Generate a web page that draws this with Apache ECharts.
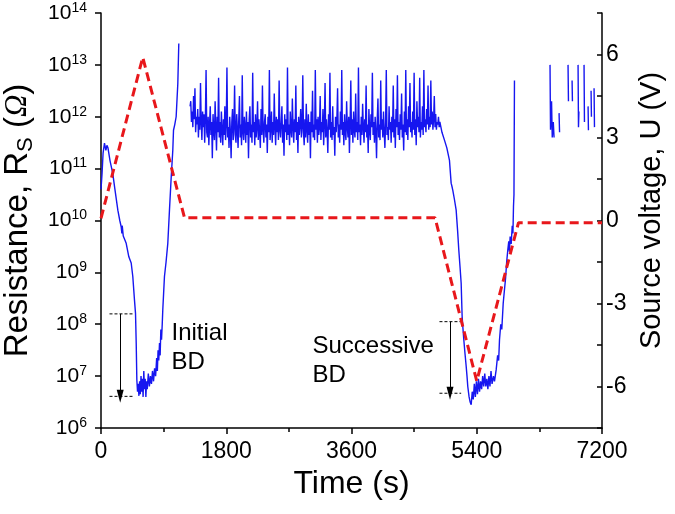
<!DOCTYPE html>
<html><head><meta charset="utf-8">
<script src="https://cdn.jsdelivr.net/npm/echarts@6/dist/echarts.min.js"></script>
<style>html,body{margin:0;padding:0;background:#fff}#c{width:675px;height:514px}</style>
</head><body><div id="c"></div>
<script>
// ---- axis ticks ----
const timeTicks = [0, 1800, 3600, 5400, 7200];
const resExpTicks = [6, 7, 8, 9, 10, 11, 12, 13, 14];
const voltTicks = [-6, -3, 0, 3, 6];

// ---- blue trace: resistance, as [time (s), log10 R] ----
const firstSweep = [[0,10.6],[15,10.9],[30,11.3],[50,11.49],[70,11.35],[85,11.45],[100,11.4],[130,11.15],[170,10.9],[200,10.6],[242,10.2],[270,10.0],[290,9.88],[300,9.75],[305,9.9],[320,9.7],[362,9.56],[400,9.3],[434,9.18],[457,8.92],[481,8.47],[496,8.21],[506,7.64],[515,6.93],
 [525,6.7],[535,6.85],[545,6.62],[555,6.9],[565,6.65],[575,7.0],[585,6.7],[595,6.95],[605,6.6],[615,7.1],[625,6.75],[635,6.95],[645,6.6],[655,6.9],[665,6.75],[680,7.05],[695,6.8],[710,7.0],[725,6.85],[740,7.1],[755,6.9],[770,7.15],[785,7.0],[800,7.35],[810,7.1],[820,7.5],[830,7.3],[841,7.64],[850,7.4],[860,7.9],[870,7.7],[880,8.0],[888,8.28],[900,8.6],[912,8.92],[935,9.2],[960,9.56],[984,10.2],[1009,10.84],[1032,11.36],[1042,11.74],[1060,11.85],[1080,12.0],[1104,12.64],[1118,13.41]];

const plateauStart = 1280;
const plateauStep = 10;
const plateauLogR = [
 12.2,12.3,11.9,12.1,11.8,12.4,11.95,12.55,11.7,12.0,
 11.85,12.15,11.6,12.0,11.75,12.65,11.9,11.55,12.1,11.8,
 12.05,11.5,11.95,12.9,11.7,11.6,12.0,11.45,11.85,12.2,
 11.65,11.9,11.2,12.05,11.75,11.55,12.3,11.8,11.35,12.0,
 11.7,12.75,11.6,11.9,11.5,12.1,11.75,11.45,11.95,11.65,
 12.2,11.55,11.85,12.95,11.6,11.8,11.4,12.0,11.7,11.2,
 11.9,12.15,11.55,11.8,12.6,11.65,11.5,12.05,11.75,11.4,
 11.95,12.4,11.6,11.85,11.45,12.8,11.7,11.55,12.0,11.8,
 11.5,12.1,11.65,11.9,11.2,11.95,12.2,11.6,11.85,11.5,
 12.85,11.7,11.9,11.45,12.05,11.6,11.8,12.3,11.55,11.95,
 11.7,11.4,12.15,11.65,12.6,11.75,11.5,11.9,12.05,11.6,
 11.85,11.3,12.0,11.7,12.9,11.55,11.8,12.1,11.5,11.9,
 11.65,12.45,11.8,11.45,12.0,11.7,11.95,11.55,12.7,11.75,
 11.6,11.9,12.2,11.5,11.85,11.25,12.05,11.7,11.95,11.55,
 12.95,11.65,11.85,11.45,12.1,11.75,11.6,12.35,11.8,11.5,
 11.95,11.7,12.6,11.55,11.9,11.3,12.0,11.65,11.85,12.15,
 11.6,11.8,12.8,11.7,11.45,11.95,11.6,12.25,11.75,11.5,
 12.05,11.65,11.9,11.2,12.1,11.7,12.5,11.6,11.85,11.55,
 12.9,11.75,11.95,11.5,12.0,11.65,11.8,12.4,11.55,11.9,
 11.7,12.15,11.45,11.85,12.65,11.6,11.95,11.7,11.3,12.05,
 11.75,12.85,11.6,11.9,11.55,12.2,11.65,11.8,11.25,12.0,
 11.7,11.95,12.55,11.6,11.85,11.5,12.1,11.75,12.9,11.65,
 11.9,11.45,12.05,11.7,11.55,12.3,11.8,11.6,12.0,11.3,
 11.85,12.7,11.65,11.95,11.5,12.1,11.75,11.6,12.45,11.7,
 11.9,11.55,12.95,11.7,11.85,11.45,12.0,11.65,12.25,11.8,
 11.5,11.95,11.7,12.6,11.6,11.85,11.3,12.15,11.75,11.55,
 12.05,11.8,12.85,11.65,11.9,11.5,12.0,11.7,11.2,11.95,
 12.35,11.6,11.85,11.55,12.7,11.75,11.95,11.6,12.1,11.7,
 11.4,11.9,12.9,11.65,11.8,11.55,12.2,11.75,11.9,11.5,
 12.0,11.7,12.6,11.6,11.95,11.4,12.15,11.8,12.8,11.65,
 11.9,11.55,12.05,11.75,12.45,11.6,11.85,11.35,12.1,11.7,
 12.9,11.65,11.95,11.55,12.2,11.8,12.65,11.7,11.9,11.6,
 12.1,11.75,12.85,11.65,11.95,11.45,12.3,11.8,12.0,11.7,
 12.75,11.6,11.9,11.75,12.2,11.65,12.9,11.8,11.95,11.7,
 12.15,11.85,12.6,11.75,12.0,11.8,12.7,11.85,12.1,11.75,
 11.95,12.4,11.8,12.05,11.75,11.9,11.85,12.0,11.8,11.9];

const secondSweep = [[4885,11.8],[4900,11.7],[4936,11.55],[4970,11.4],[5008,11.16],[5032,10.72],[5045,10.65],[5056,10.58],[5080,10.4],[5104,10.2],[5125,9.8],[5142,9.43],[5160,9.1],[5176,8.79],[5190,8.15],[5200,7.95],[5214,7.7],[5230,7.45],[5248,7.19],[5260,7.0],[5271,6.8],[5290,6.6],[5305,6.5],[5320,6.45],[5335,6.7],[5350,6.55],[5365,6.85],[5380,6.6],[5395,6.9],[5410,6.65],[5425,6.95],[5440,6.7],[5455,6.9],[5470,6.75],[5485,7.0],[5500,6.8],[5515,7.05],[5530,6.8],[5545,6.95],[5560,6.75],[5575,7.0],[5590,6.8],[5605,7.1],[5620,6.85],[5640,7.0],[5655,6.9],[5679,7.12],[5700,7.4],[5715,7.3],[5727,7.7],[5745,8.0],[5760,7.9],[5780,8.4],[5798,8.66],[5815,8.9],[5830,9.2],[5846,9.43],[5860,9.6],[5870,9.4],[5880,9.69],[5895,9.55],[5910,9.9],[5920,9.75],[5928,10.27],[5935,10.5],[5942,12.7]];

const lateStrokes = [
 [[6453,13.0],[6460,11.75],[6475,12.3],[6485,11.6],[6500,11.9],[6511,11.6]],
 [[6583,12.07],[6590,11.7]],
 [[6712,13.0],[6718,12.3]],
 [[6770,12.7],[6775,12.3]],
 [[6856,13.0],[6862,11.8],[6868,12.1]],
 [[6942,13.0],[6948,11.9]],
 [[7000,12.2],[7005,11.74]],
 [[7043,12.5],[7048,12.0]],
 [[7086,12.55],[7092,11.8]]];

// ---- red dashed: source voltage ----
const voltTime = [0, 600, 1200, 4800, 5400, 6000, 7200];
const voltValue = [0.08, 5.9, 0.1, 0.1, -5.8, -0.08, -0.08];

// ---- breakdown annotations ----
const bdText = ['Initial\nBD', 'Successive\nBD'];
const bdTextTime = [1013, 3039];
const bdTextLogR = [7.55, 7.30];
const bdTimeStart = [122, 4864];
const bdTimeEnd = [457, 5176];
const bdArrowTime = [276, 5016];
const bdHighLogR = [8.2, 8.05];
const bdLowLogR = [6.61, 6.67];

// ---- build ----
const FONT = 'Liberation Sans, Arial, sans-serif';
const toR = e => Math.pow(10, e);
const blueData = [];
firstSweep.forEach(p => blueData.push([p[0], toR(p[1])]));
blueData.push([1200, null]);
plateauLogR.forEach((e, i) => blueData.push([plateauStart + plateauStep * i, toR(e)]));
secondSweep.forEach(p => blueData.push([p[0], toR(p[1])]));
lateStrokes.forEach(s => {
  blueData.push([s[0][0] - 1, null]);
  s.forEach(p => blueData.push([p[0], toR(p[1])]));
});

const series = [];
series.push({
  type: 'line', data: blueData, yAxisIndex: 0, symbol: 'none', connectNulls: false,
  lineStyle: { color: '#1616f0', width: 1.4 }, z: 2, silent: true
});
for (let k = 0; k < bdText.length; k++) {
  series.push({
    type: 'line', yAxisIndex: 0, symbol: 'none', silent: true, z: 3,
    data: [[bdTimeStart[k], toR(bdHighLogR[k])], [bdTimeEnd[k], toR(bdHighLogR[k])], [bdTimeEnd[k] + 1, null],
           [bdTimeStart[k], toR(bdLowLogR[k])], [bdTimeEnd[k], toR(bdLowLogR[k])]],
    lineStyle: { color: '#000', width: 1, type: [3, 2] },
    markLine: {
      silent: true, symbol: ['none', 'triangle'], symbolSize: [7, 13],
      label: { show: false },
      lineStyle: { color: '#000', width: 1, type: 'solid' },
      data: [[{ coord: [bdArrowTime[k], toR(bdHighLogR[k])] }, { coord: [bdArrowTime[k], toR(bdLowLogR[k])] }]]
    }
  });
  series.push({
    type: 'scatter', yAxisIndex: 0, symbolSize: 0, silent: true, z: 4,
    itemStyle: { opacity: 1 },
    data: [[bdTextTime[k], toR(bdTextLogR[k])]],
    label: { show: true, position: 'right', distance: 0, formatter: bdText[k], align: 'left', opacity: 1,
      fontSize: 24, lineHeight: 29, color: '#000', fontFamily: FONT }
  });
}
series.push({
  type: 'line', yAxisIndex: 1, symbol: 'none', silent: true, z: 5,
  data: voltTime.map((t, i) => [t, voltValue[i]]),
  lineStyle: { color: '#e8171b', width: 3, type: [9, 5] }
});

const chart = echarts.init(document.getElementById('c'), null, { renderer: 'canvas' });
chart.setOption({
  animation: false,
  backgroundColor: '#fff',
  grid: { left: 101, top: 13, width: 501, height: 415, outerBoundsMode: 'none' },
  xAxis: {
    type: 'value', min: timeTicks[0], max: timeTicks[timeTicks.length - 1], interval: timeTicks[1] - timeTicks[0],
    axisLine: { show: true, onZero: false, lineStyle: { color: '#000', width: 1.5 } },
    axisTick: { show: true, length: 6, lineStyle: { color: '#000', width: 1.5 } },
    minorTick: { show: true, splitNumber: 2, length: 4, lineStyle: { color: '#000', width: 1.5 } },
    splitLine: { show: false },
    axisLabel: { fontSize: 23, color: '#000', margin: 12, fontFamily: FONT, formatter: v => String(v) },
    name: 'Time (s)', nameLocation: 'middle', nameGap: 39,
    nameTextStyle: { fontSize: 32, color: '#000', fontFamily: FONT }
  },
  yAxis: [{
    type: 'log', logBase: 10, min: toR(resExpTicks[0]), max: toR(resExpTicks[resExpTicks.length - 1]),
    splitNumber: resExpTicks.length - 1, position: 'left',
    axisLine: { show: true, onZero: false, lineStyle: { color: '#000', width: 1.5 } },
    axisTick: { show: true, length: 6, lineStyle: { color: '#000', width: 1.5 } },
    splitLine: { show: false },
    axisLabel: {
      margin: 14, color: '#000',
      formatter: v => '{b|10}{s|' + Math.round(Math.log10(v)) + '}',
      rich: {
        b: { fontSize: 21, lineHeight: 24, fontFamily: FONT, color: '#000' },
        s: { fontSize: 14, lineHeight: 14, verticalAlign: 'top', fontFamily: FONT, color: '#000' }
      }
    },
    name: '{t|Resistance, R}{s|S}{t| (}{o|Ω}{t|)}', nameLocation: 'middle', nameRotate: 90, nameGap: 60,
    nameTextStyle: {
      color: '#000',
      rich: {
        t: { fontSize: 33, lineHeight: 38, fontFamily: FONT, color: '#000' },
        s: { fontSize: 22, lineHeight: 22, verticalAlign: 'bottom', fontFamily: FONT, color: '#000' },
        o: { fontSize: 31, lineHeight: 38, fontStyle: 'italic', fontFamily: 'Liberation Serif, serif', color: '#000' }
      }
    }
  }, {
    type: 'value', position: 'right', min: -7.5, max: 7.5, interval: 1.5,
    axisLine: { show: true, onZero: false, lineStyle: { color: '#000', width: 1.5 } },
    axisTick: { show: true, inside: true, length: 5, lineStyle: { color: '#000', width: 1.5 } },
    splitLine: { show: false },
    axisLabel: {
      margin: 4, fontSize: 23, color: '#000', fontFamily: FONT,
      formatter: v => voltTicks.some(t => Math.abs(t - v) < 1e-9) ? String(Math.round(v)) : ''
    },
    name: 'Source voltage, U (V)', nameLocation: 'middle', nameRotate: 90, nameGap: 31,
    nameTextStyle: { fontSize: 29, color: '#000', fontFamily: FONT, padding: [0, 0, 0, 20] }
  }],
  series: series
});
</script></body></html>
